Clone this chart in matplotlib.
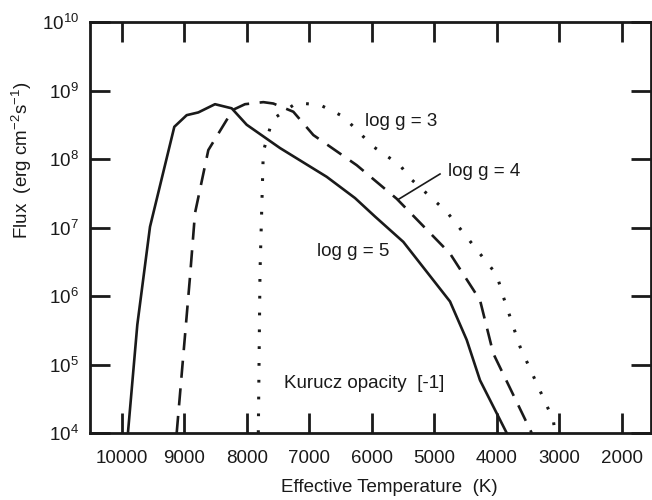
import numpy as np
import matplotlib
matplotlib.use("Agg")
from matplotlib import pyplot as plt
from matplotlib.ticker import FixedLocator, FuncFormatter

plt.rcParams["font.family"] = ["Liberation Sans", "DejaVu Sans"]
plt.rcParams["mathtext.fontset"] = "custom"
plt.rcParams["mathtext.rm"] = "Liberation Sans"
plt.rcParams["mathtext.it"] = "Liberation Sans"

# log g = 5 (solid)
teff_g5 = [9900, 9750, 9547, 9158, 8960, 8774, 8507, 8240, 8000, 7467,
           6720, 6267, 5947, 5494, 4747, 4480, 4267, 3840]
logf_g5 = [4.0, 5.58, 7.01, 8.47, 8.64, 8.68, 8.80, 8.74, 8.50, 8.16,
           7.74, 7.43, 7.16, 6.79, 5.92, 5.36, 4.77, 4.0]

# log g = 4 (dashed)
teff_g4 = [9120, 8907, 8827, 8614, 8320, 8214, 8027, 7734, 7574, 7254,
           6934, 6240, 5600, 4747, 4267, 4054, 3440]
logf_g4 = [4.0, 6.28, 7.21, 8.13, 8.57, 8.72, 8.80, 8.83, 8.81, 8.69,
           8.35, 7.91, 7.42, 6.62, 5.94, 5.16, 4.0]

# log g = 3 (dotted)
teff_g3 = [7814, 7787, 7734, 7627, 7520, 7200, 6827, 6454, 5974, 5547,
           5387, 4800, 4000, 3894, 3627, 3094, 3067]
logf_g3 = [4.0, 6.35, 8.11, 8.45, 8.62, 8.82, 8.79, 8.62, 8.18, 7.91,
           7.72, 7.23, 6.31, 5.99, 5.26, 4.19, 4.0]

xticks = [10000, 9000, 8000, 7000, 6000, 5000, 4000, 3000, 2000]
yticks = [1e4, 1e5, 1e6, 1e7, 1e8, 1e9, 1e10]

W, H = 652, 500
fig = plt.figure(figsize=(W / 100, H / 100), dpi=100)
ax = fig.add_axes([90 / W, 1 - 433 / H, (651 - 90) / W, (433 - 22) / H])

lw = 1.9
ax.plot(teff_g5, 10 ** np.array(logf_g5), color="#1a1a1a", lw=lw)
ax.plot(teff_g4, 10 ** np.array(logf_g4), color="#1a1a1a", lw=lw,
        dashes=(6.5, 4.0))
ax.plot(teff_g3, 10 ** np.array(logf_g3), color="#1a1a1a", lw=2.2,
        dashes=(0.9, 4.6), dash_capstyle="butt")

ax.set_yscale("log")
ax.set_xlim(10507, 1531)
ax.set_ylim(1e4, 1e10)
ax.xaxis.set_major_locator(FixedLocator(xticks))
ax.yaxis.set_major_locator(FixedLocator(yticks))
ax.yaxis.set_minor_locator(FixedLocator([]))
ax.xaxis.set_major_formatter(FuncFormatter(lambda v, p: "%d" % v))
ax.yaxis.set_major_formatter(
    FuncFormatter(lambda v, p: r"$\mathregular{10^{%d}}$" % round(np.log10(v))))

ax.tick_params(which="major", direction="in", length=14.5, width=2.0,
               top=True, right=True, labelsize=13.5, color="#1a1a1a",
               labelcolor="#1a1a1a")
ax.tick_params(axis="x", pad=12.5)
ax.tick_params(axis="y", pad=8)
for s in ax.spines.values():
    s.set_linewidth(2.0)
    s.set_color("#1a1a1a")

ax.set_xlabel("Effective Temperature  (K)", fontsize=13.5, color="#1a1a1a",
              va="center")
ax.xaxis.set_label_coords((389 - 90) / (651 - 90), -(488 - 433) / (433 - 22))
ax.set_ylabel(r"Flux  (erg cm$^{\mathregular{-2}}$s$^{\mathregular{-1}}$)",
              fontsize=13.5, color="#1a1a1a", va="center")
ax.yaxis.set_label_coords(-(90 - 22) / (651 - 90), (433 - 160) / (433 - 22))


def px(x, y):
    # pixel coordinates of the figure -> figure fraction
    return (x / W, 1 - y / H)


fs = 13.5
fig.text(*px(365, 122), "log g = 3", fontsize=fs, va="center", color="#1a1a1a")
fig.text(*px(448, 172), "log g = 4", fontsize=fs, va="center", color="#1a1a1a")
fig.text(*px(317, 252), "log g = 5", fontsize=fs, va="center", color="#1a1a1a")
fig.text(*px(284, 383), "Kurucz opacity  [-1]", fontsize=fs, va="center",
         color="#1a1a1a")
fig.add_artist(plt.Line2D([440 / W, 399 / W], [1 - 174 / H, 1 - 199 / H],
                          color="#1a1a1a", lw=1.2))

fig.savefig("out.png", dpi=100)
